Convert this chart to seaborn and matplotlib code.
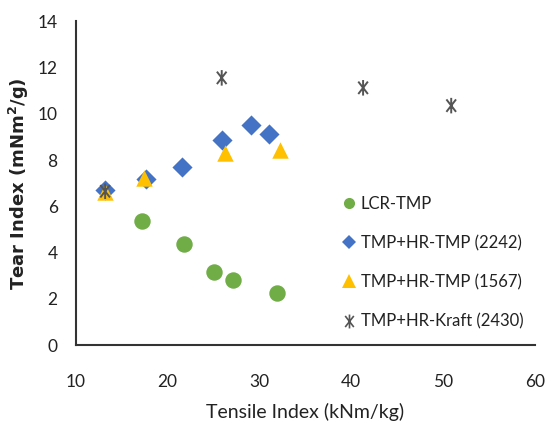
import matplotlib
matplotlib.use("Agg")
import matplotlib.pyplot as plt
from matplotlib.path import Path
from matplotlib.lines import Line2D
import seaborn as sns
import pandas as pd

# Tear index vs tensile index for the four pulp blends
lcr_tensile = [17.2, 21.8, 25.1, 27.1, 31.9]
lcr_tear = [5.35, 4.38, 3.14, 2.81, 2.26]

hr2242_tensile = [13.2, 17.6, 21.6, 25.9, 29.1, 31.0]
hr2242_tear = [6.72, 7.16, 7.71, 8.86, 9.51, 9.12]

hr1567_tensile = [13.2, 17.4, 26.3, 32.3]
hr1567_tear = [6.62, 7.23, 8.32, 8.43]

kraft_tensile = [13.2, 25.9, 41.3, 50.9]
kraft_tear = [6.65, 11.55, 11.12, 10.35]

series_names = ["LCR-TMP", "TMP+HR-TMP (2242)", "TMP+HR-TMP (1567)", "TMP+HR-Kraft (2430)"]
x_ticks = [10, 20, 30, 40, 50, 60]
y_ticks = [0, 2, 4, 6, 8, 10, 12, 14]

sns.set_theme(style="white")
plt.rcParams["font.family"] = ["Lato", "DejaVu Sans"]

# vertical bar crossed by an X
star_path = Path(
    [(0, -1), (0, 1), (-0.62, -0.8), (0.62, 0.8), (-0.62, 0.8), (0.62, -0.8)],
    [Path.MOVETO, Path.LINETO, Path.MOVETO, Path.LINETO, Path.MOVETO, Path.LINETO],
)

fig = plt.figure(figsize=(5.53, 4.23), dpi=100)
ax = fig.add_axes([0.137, 0.184, 0.830, 0.766])

styles = [
    (lcr_tensile, lcr_tear, "#70AD47", "o", 140),
    (hr2242_tensile, hr2242_tear, "#4472C4", "D", 105),
    (hr1567_tensile, hr1567_tear, "#FFC000", "^", 140),
]
for (xs, ys, col, mk, sz), name in zip(styles, series_names[:3]):
    df = pd.DataFrame({"Tensile": xs, "Tear": ys})
    sns.scatterplot(data=df, x="Tensile", y="Tear", ax=ax, color=col,
                    marker=mk, s=sz, linewidth=0, legend=False, zorder=3)

kdf = pd.DataFrame({"Tensile": kraft_tensile, "Tear": kraft_tear})
sns.scatterplot(data=kdf, x="Tensile", y="Tear", ax=ax, marker=star_path,
                s=125, facecolor="none", edgecolor="#555555", linewidth=1.4,
                legend=False, zorder=4)

ax.set_xlim(10, 60)
ax.set_ylim(0, 14)
ax.set_xticks(x_ticks)
ax.set_yticks(y_ticks)
ax.tick_params(axis="both", direction="in", length=6, width=1.2, color="#333333",
               labelsize=12.5, labelcolor="#222222")
ax.tick_params(axis="x", pad=21)
ax.tick_params(axis="y", pad=13)
for side in ["top", "right"]:
    ax.spines[side].set_visible(False)
for side in ["left", "bottom"]:
    ax.spines[side].set_color("#333333")
    ax.spines[side].set_linewidth(1.5)

ax.set_xlabel("Tensile Index (kNm/kg)", fontsize=14, color="#222222", labelpad=9)
ax.set_ylabel("Tear Index (mNm$^{\\mathbf{2}}$/g)", fontsize=13, fontweight="bold",
              family="DejaVu Sans", color="#222222", labelpad=5)

handles = [
    Line2D([], [], linestyle="none", marker="o", markersize=8, color="#70AD47", markeredgewidth=0),
    Line2D([], [], linestyle="none", marker="D", markersize=7, color="#4472C4", markeredgewidth=0),
    Line2D([], [], linestyle="none", marker="^", markersize=10, color="#FFC000", markeredgewidth=0),
    Line2D([], [], linestyle="none", marker=star_path, markersize=10, markerfacecolor="none",
           markeredgecolor="#555555", markeredgewidth=1.2),
]
ax.legend(handles, series_names, loc="upper left", bbox_to_anchor=(0.607, 0.557),
          bbox_transform=fig.transFigure, frameon=False, fontsize=12,
          handlelength=0.6, handletextpad=0.4, labelspacing=1.39, borderpad=0,
          labelcolor="#222222")

fig.savefig("out.png", dpi=100)
